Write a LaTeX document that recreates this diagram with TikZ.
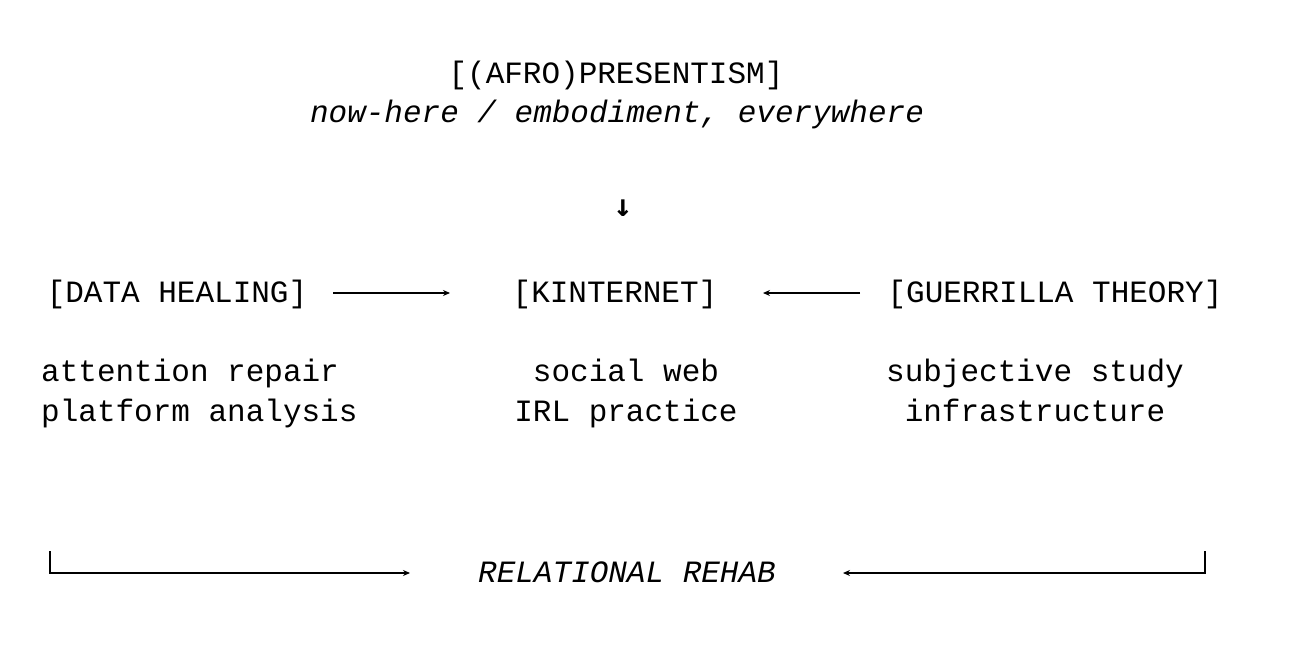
\documentclass[tikz,border=0pt]{standalone}
\usepackage{fontspec}
\setmainfont{Liberation Mono}
\newfontfamily\arrowfont{DejaVu Sans Mono}
\usetikzlibrary{arrows.meta}
\tikzset{
  txt/.style={inner sep=0pt, anchor=base, font=\fontsize{31}{38}\selectfont},
  lft/.style={txt, anchor=base west},
  link/.style={line width=2pt, -{Stealth[length=7pt,width=6pt]}}
}
\begin{document}
\begin{tikzpicture}[x=1pt,y=-1pt]
\useasboundingbox (0,0) rectangle (1310,658);
% head
\node[txt] (head) at (616,84) {[(AFRO)PRESENTISM]};
\node[txt] (sub) at (617,123) {\itshape now-here / embodiment, everywhere};
\node[txt] (down) at (623,216) {\arrowfont\bfseries ↓};
% middle row
\node[txt] (heal) at (177,302) {[DATA HEALING]};
\node[txt] (kin) at (615,302) {[KINTERNET]};
\node[txt] (guer) at (1055,302) {[GUERRILLA THEORY]};
\coordinate (healend) at (333,293);
\coordinate (kinl) at (450,293);
\coordinate (guerend) at (860,293);
\coordinate (kinr) at (763,293);
\draw[link] (healend) -- (kinl);
\draw[link] (guerend) -- (kinr);
% lists
\node[lft] (h1) at (41,381) {attention repair};
\node[lft] (h2) at (41,421) {platform analysis};
\node[txt] (k1) at (626,381) {social web};
\node[txt] (k2) at (626,421) {IRL practice};
\node[txt] (g1) at (1035,381) {subjective study};
\node[txt] (g2) at (1035,421) {infrastructure};
% bottom
\node[txt] (rehab) at (627,582) {\itshape RELATIONAL REHAB};
\coordinate (bl) at (50,551);
\coordinate (br) at (1205,551);
\coordinate (rehabl) at (410,573);
\coordinate (rehabr) at (843,573);
\draw[link] (bl) |- (rehabl);
\draw[link] (br) |- (rehabr);
\end{tikzpicture}
\end{document}
